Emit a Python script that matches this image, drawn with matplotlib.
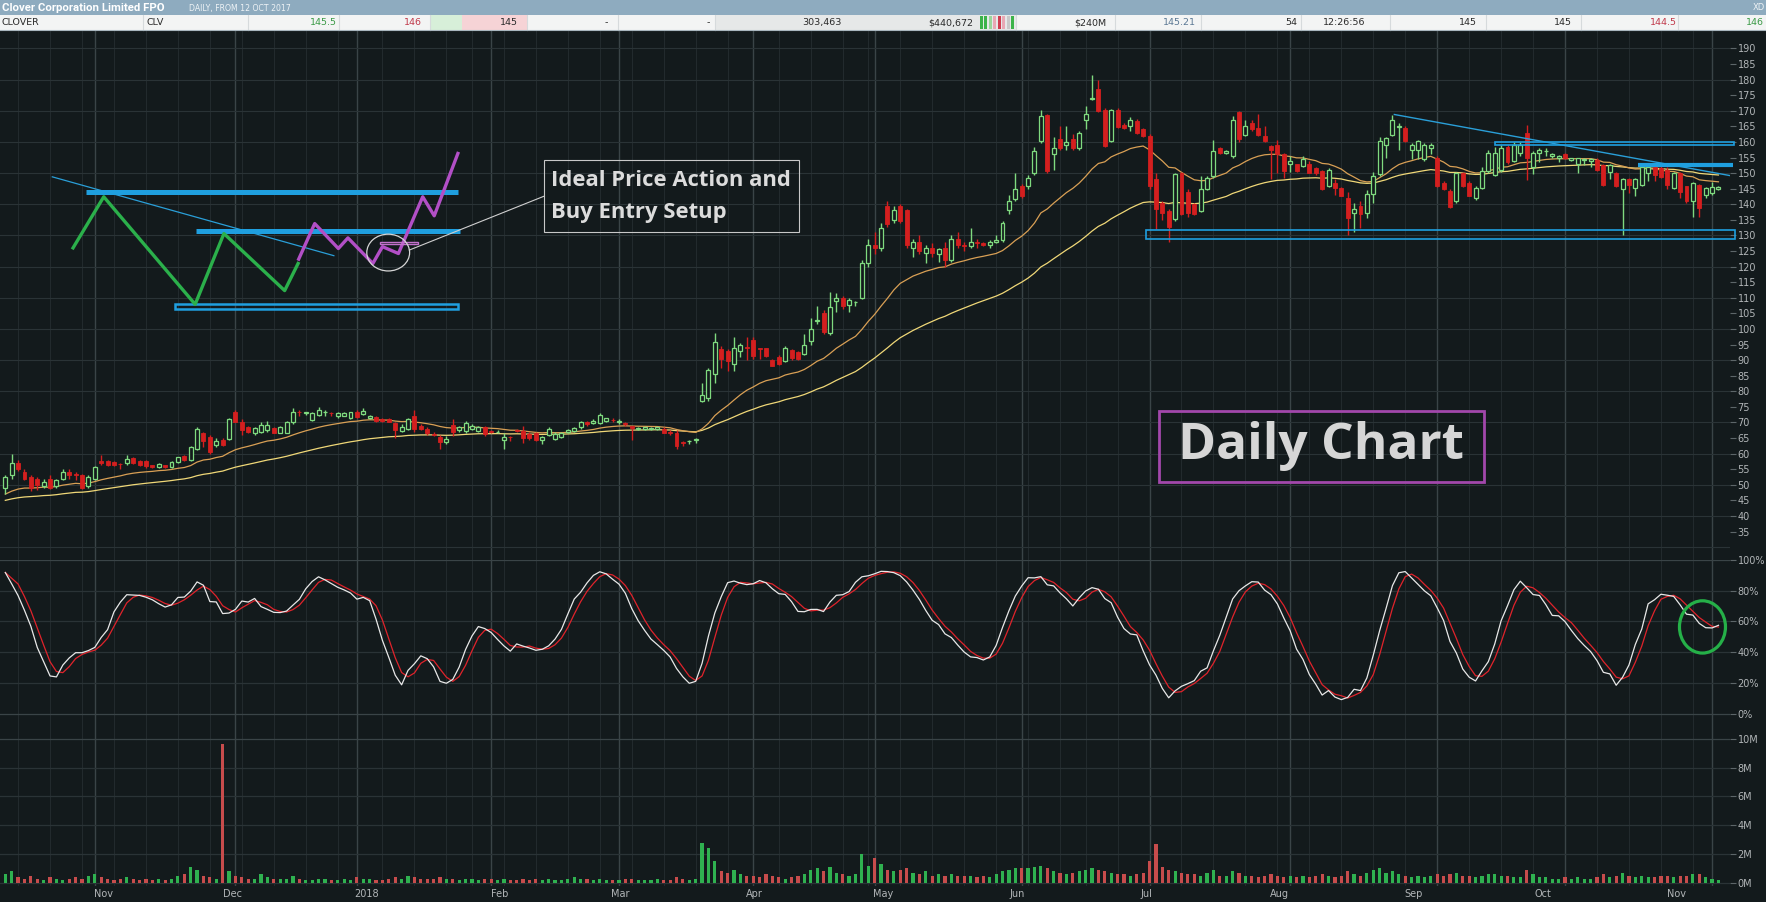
import numpy as np
import pandas as pd
import matplotlib
matplotlib.use("Agg")
import matplotlib.pyplot as plt
from matplotlib.patches import Rectangle, Ellipse
from matplotlib.lines import Line2D

# ---------------- data ----------------
holidays = ["2017-12-25", "2017-12-26", "2018-01-01", "2018-01-26",
            "2018-03-30", "2018-04-02", "2018-04-25", "2018-06-11"]
dates = pd.bdate_range("2017-10-12", "2018-11-02", freq="C", holidays=holidays)

opens = [
    49, 53, 57, 54, 52.5, 52, 49.5, 52, 49.5, 52, 54, 53.3, 53, 49.5,
    52, 57.7, 57.5, 57.2, 56.7, 56.9, 58.5, 57.5, 57.5, 56.2, 55.8, 56.2, 55.7, 57.3, 59.1, 58, 61.5, 66.6, 65.3, 62.6, 64.4, 64.8,
    73.5, 70.3, 68.6, 66.7, 67, 67.6, 68.2, 66.7, 66.7, 70, 73.3, 73, 70.9, 72.4, 73.3, 73.1, 72, 72, 71.4,
    73.4, 72.8, 71.4, 71.7, 71, 71, 69.8, 67.3, 68, 72.2, 69, 68, 66.3, 65.3, 63.6, 69.2, 67.7, 67.2, 68, 67.4, 68.6,
    67.3, 66.8, 64.3, 65.3, 67.5, 67.1, 66.2, 66.5, 64.3, 66, 64.7, 65.2, 67, 67.2, 68.4, 70, 69.9, 69.8, 70.4, 70.8,
    70.2, 69.8, 68.7, 68, 68, 68, 68, 68, 67, 66.7, 63.6, 64, 64.5, 77, 77.7, 85.7, 93.5, 93, 88.7, 92.8, 94.3,
    96.4, 93.8, 93.8, 90, 91, 89.8, 93.2, 92.5, 92.1, 96, 102.5, 105, 98.6, 109, 110, 107.8, 108.5, 110, 121,
    127, 126, 139.5, 135, 139.5, 138, 126, 128, 124.5, 126, 124, 126, 122, 129, 127, 126.5, 128, 127.5, 127, 128, 128.5, 138, 141.6,
    145.8, 145.8, 150, 160.2, 168.7, 156, 160.8, 159, 161, 158, 167, 173.8, 177, 170.3, 160.2, 170.3, 165.5, 165, 166.6, 164,
    161.8, 148, 140.5, 137.9, 135.2, 150, 144, 140, 137.9, 144.8, 149, 158, 156.5, 155.4, 169.5, 162.3, 166, 164.5, 161.8, 158.6, 159, 156,
    152.8, 152.8, 152.3, 153, 151.7, 150.6, 146, 146.9, 145.3, 142.1, 137.3, 139.5, 137.3, 143.2, 149.6, 159, 162.3, 164.8, 164.5, 157.5, 157.5, 154.4, 158,
    154.9, 146.9, 144.3, 141, 150, 146.9, 142.1, 145.3, 150.6, 149.4, 151, 158.5, 154, 156.3, 162.8, 152, 156.6, 157, 155.5, 155,
    156, 154.3, 153, 154.2, 154, 154.2, 152.6, 150.5, 150, 145, 148, 145.1, 146.2, 150, 151.8, 151.5, 151, 145.1, 150, 145.7, 140.9, 146.2, 143, 143.5, 145,
]
highs = [
    53, 60, 58, 55, 53, 52.5, 52, 53, 52, 55, 55, 54, 53.5, 53,
    56, 59.5, 58, 57.5, 57, 59.5, 59, 58, 58, 56.5, 57, 56.5, 57.5, 59, 59.5, 62.5, 68.5, 67, 66, 65, 65, 71.5,
    74, 71, 69, 68.5, 70, 70.5, 68.5, 69, 70.5, 74.5, 74, 73.5, 73.5, 75, 74, 73.5, 73.5, 73.5, 73.5,
    74, 74.5, 72.5, 72, 71.5, 71.5, 70, 69.5, 71.5, 74, 69.5, 68.5, 67, 66, 65.5, 71, 69, 70.5, 69.5, 69, 69,
    67.5, 67.5, 66.5, 65.5, 68, 69, 67, 67, 65.5, 68.5, 67, 67, 68, 68.5, 70.5, 70.5, 71, 73, 71.5, 71.5,
    71, 70, 69, 68.5, 68.5, 68.5, 68.5, 68.5, 67.5, 67.5, 64, 64.5, 65, 82.6, 87.5, 98.6, 94.5, 93.5, 97.5, 95.5, 97.5,
    97.5, 94, 94, 90.5, 91.5, 94.5, 93.5, 93, 98.5, 103.5, 107.5, 106, 112, 111.5, 110.5, 110, 109, 122, 129,
    131, 134, 141, 139.5, 140, 138.5, 129, 130, 127, 127.5, 126, 128, 130, 131, 128, 132.5, 129, 128, 128.5, 130, 134.5, 143, 150,
    146.5, 149.5, 158.5, 170.3, 169, 161.5, 165, 165, 162.5, 163.5, 171.5, 181.5, 180, 171, 170.5, 171, 166, 168, 167.5, 164.5,
    162.5, 150, 141, 138.5, 150, 150.5, 145, 140.5, 149, 149, 160.5, 158.5, 157.5, 168.2, 170, 167, 167, 169, 165, 159, 160.5, 156.5,
    155.5, 153, 155.5, 154, 152, 151, 151.5, 148, 145.5, 144, 140.5, 141, 144.5, 150.5, 161.5, 161.5, 168.5, 166, 165, 159.5, 160.5, 159.5, 159.5,
    155.5, 147.5, 145, 150.5, 150.5, 147.5, 146, 152, 157.5, 158.5, 159, 159, 160, 160, 165.5, 157, 158, 158, 156.5, 155.8,
    156.5, 155, 155, 155, 155, 155, 153, 153, 150.5, 148.5, 148.5, 148.5, 152.5, 152.5, 152.5, 153, 152, 150.5, 150.5, 146, 147, 146.5, 145.5, 147, 146,
]
lows = [
    47, 52, 54.5, 51.5, 48, 48.4, 49, 48.5, 49, 51.5, 52, 51.5, 48.5, 49,
    51.5, 56.5, 56, 56, 55, 56.5, 56.8, 56, 55.5, 55.5, 55.5, 55.5, 55.5, 57, 57.5, 57.5, 61, 62, 60, 62, 62.5, 64.5,
    70, 66, 66.5, 66, 66.5, 67, 66.5, 66.5, 66.5, 69.5, 72, 72.5, 70.5, 72, 72, 72, 71.5, 72, 71,
    71.5, 72.5, 71, 70, 70, 70, 65, 67, 67.5, 67, 67.5, 66, 65.5, 61.5, 63, 65.5, 67, 66.5, 67.5, 67, 65.5,
    66.5, 66.5, 61.5, 64, 67, 63.5, 64.5, 64, 63, 65.5, 64.5, 65, 66.5, 67, 68, 69, 69.5, 69.5, 70, 70,
    69.5, 69, 64.5, 67.5, 67.5, 67.5, 67.5, 66.5, 66, 61.5, 62.5, 63, 63.5, 76.5, 77, 82.5, 87.5, 86.6, 86.6, 91, 90,
    90.5, 90.5, 91, 88, 88.5, 89.5, 90, 90, 91.5, 95, 101.5, 98.5, 98, 105.5, 106.5, 105.5, 107.5, 109.5, 120,
    124, 125, 132.8, 134, 134, 126, 123, 124, 121, 123, 121.5, 120, 121.5, 126, 125, 126, 126, 126.5, 126, 127.5, 128, 137, 141,
    142, 145, 149.5, 159.5, 150, 151, 157.5, 157.5, 157.5, 157.5, 164, 173.5, 169.5, 158.5, 160, 164.5, 164, 163.5, 162.5, 161.5,
    145, 132, 135, 128, 134.5, 136.5, 136, 136.5, 137.5, 144.5, 148.5, 156, 156, 155, 160, 162, 163.5, 162, 160, 148, 150, 148.5,
    150.5, 150.5, 152, 150, 149.5, 144.5, 145.5, 143, 142.5, 130, 131, 132.5, 135.5, 140.5, 149, 155, 162, 157.5, 160, 154.5, 154.5, 154, 156,
    145.5, 144.5, 138.8, 140.5, 145.5, 142.5, 141.5, 145, 150, 149, 150.5, 153, 153.5, 155.5, 147.8, 149.7, 153.5, 155.5, 155, 153.5,
    154.5, 154, 150, 152.5, 152, 150.8, 146, 148, 145.5, 130, 143.5, 142.5, 146, 147.5, 147.5, 148.5, 145, 145, 142, 140.5, 136, 136, 142, 143, 144.5,
]
closes = [
    52.5, 57, 55, 52, 49, 50, 51, 49, 51.6, 54, 53, 53.2, 49, 52.5,
    55.7, 57, 56.4, 56.4, 56.6, 58.2, 57, 56.4, 55.9, 55.7, 56.8, 55.8, 57.3, 58.8, 58, 62.1, 68, 64.2, 60.5, 64, 62.9, 71.2,
    70.3, 67.6, 67, 68.2, 69.2, 69.2, 66.7, 68.6, 70.3, 73.2, 73.2, 73.3, 73, 74, 73.3, 73, 73, 73, 73.2,
    71.7, 73.6, 72.2, 70.4, 70.5, 70.3, 67.6, 68.6, 71, 68, 68, 66.6, 65.9, 63.6, 64.8, 67, 68.6, 69.8, 69, 68.5, 66.2,
    67, 67, 65.2, 65.2, 67.3, 65, 65.1, 64.5, 65.3, 68, 66.2, 66.7, 67.6, 68.3, 70, 69.5, 70.5, 72.3, 71.4, 70.7,
    70.3, 69.4, 68.2, 68.3, 68.4, 68.3, 68.4, 66.6, 66.5, 62.5, 63.5, 64, 64.6, 78.8, 86.8, 95.7, 90.3, 89.8, 93.9, 95, 94,
    91.4, 93.6, 91.4, 88.2, 88.7, 93.8, 90.6, 90.3, 94.9, 100, 103, 98.9, 107, 110, 107.5, 109.3, 108.6, 121, 127,
    126, 132.5, 133.6, 138, 134.7, 127, 128, 125, 126, 124.5, 125.5, 122, 129, 127, 126.5, 128, 127.5, 127, 128, 128.5, 134, 141, 144.9,
    142.7, 148.5, 157, 168.2, 150.6, 158, 158, 160, 158, 163, 169, 174, 170, 158.6, 170.3, 164.8, 164.5, 167, 162.9, 161.8,
    145.8, 138.4, 137.3, 132.6, 149.6, 136.8, 137.3, 136.8, 144.8, 148.5, 157, 156.5, 157, 167.1, 160.8, 165, 164, 162.3, 160.2, 157.5, 156, 150.6,
    153.8, 150.6, 154.6, 150, 150, 144.8, 151, 145.3, 142.7, 135.7, 138.4, 136.8, 143.2, 149, 160.2, 161.3, 167.1, 165.2, 160.2, 159, 160.2, 159, 159,
    145.8, 144.8, 139, 150, 145.8, 142.7, 145.3, 150.6, 156.5, 156.3, 158, 153.4, 159, 159, 154.7, 156.5, 157.4, 157.2, 156, 155.5,
    154.7, 154.7, 154.7, 154.6, 154.6, 151, 146.2, 152.6, 145.7, 148, 146.2, 148, 152.1, 152.1, 149.4, 148.9, 146.2, 149.9, 144, 140.9, 146.7, 138.7, 145.1, 145.4, 145.5,
]
volume_m = [
    0.6, 0.8, 0.4, 0.3, 0.5, 0.3, 0.2, 0.4, 0.3, 0.2, 0.3, 0.4, 0.3, 0.5,
    0.6, 0.4, 0.3, 0.2, 0.3, 0.4, 0.3, 0.2, 0.3, 0.2, 0.3, 0.2, 0.3, 0.5, 0.6, 1.1, 0.9, 0.5, 0.4, 0.3, 9.6, 0.8,
    0.5, 0.4, 0.3, 0.3, 0.6, 0.4, 0.3, 0.3, 0.3, 0.5, 0.3, 0.2, 0.2, 0.3, 0.3, 0.2, 0.2, 0.3, 0.2,
    0.4, 0.3, 0.3, 0.2, 0.2, 0.3, 0.4, 0.3, 0.5, 0.4, 0.3, 0.3, 0.3, 0.4, 0.3, 0.3, 0.2, 0.3, 0.3, 0.2, 0.3,
    0.3, 0.2, 0.3, 0.2, 0.2, 0.3, 0.2, 0.3, 0.2, 0.3, 0.2, 0.2, 0.3, 0.4, 0.3, 0.3, 0.2, 0.3, 0.2, 0.2,
    0.2, 0.3, 0.3, 0.2, 0.2, 0.2, 0.3, 0.2, 0.2, 0.4, 0.3, 0.2, 0.3, 2.8, 2.4, 1.5, 0.8, 0.7, 0.9, 0.6, 0.5,
    0.5, 0.4, 0.6, 0.5, 0.4, 0.3, 0.4, 0.5, 0.6, 0.9, 1.0, 0.8, 1.1, 0.7, 0.6, 0.5, 0.6, 2.0, 1.2,
    1.7, 1.3, 0.9, 0.8, 0.9, 1.0, 0.7, 0.6, 0.8, 0.5, 0.6, 0.5, 0.6, 0.5, 0.5, 0.5, 0.4, 0.5, 0.4, 0.6, 0.8, 0.9, 1.0,
    1.0, 1.0, 1.1, 1.2, 1.0, 0.8, 0.7, 0.6, 0.7, 0.8, 0.9, 1.0, 0.9, 0.8, 0.7, 0.6, 0.6, 0.5, 0.6, 0.7,
    1.5, 2.7, 1.1, 0.9, 0.8, 0.7, 0.6, 0.6, 0.5, 0.7, 0.9, 0.5, 0.5, 0.8, 0.7, 0.5, 0.5, 0.4, 0.5, 0.6, 0.5, 0.4,
    0.5, 0.4, 0.5, 0.4, 0.5, 0.6, 0.5, 0.4, 0.5, 0.8, 0.6, 0.5, 0.7, 0.9, 1.0, 0.7, 0.8, 0.6, 0.5, 0.4, 0.5, 0.4, 0.5,
    0.6, 0.5, 0.6, 0.7, 0.5, 0.5, 0.4, 0.5, 0.6, 0.6, 0.5, 0.5, 0.4, 0.4, 0.9, 0.6, 0.4, 0.4, 0.3, 0.3,
    0.4, 0.3, 0.4, 0.3, 0.3, 0.4, 0.6, 0.4, 0.5, 0.7, 0.5, 0.4, 0.5, 0.4, 0.4, 0.5, 0.5, 0.4, 0.5, 0.5, 0.6, 0.6, 0.4, 0.3, 0.2,
]

ma_fast_start, ma_slow_start = 47.0, 45.0     # MA levels at the left edge
ma_fast_span, ma_slow_span = 20, 50
stoch_period, stoch_k_smooth, stoch_d_smooth = 14, 5, 3

month_labels = ["Nov", "Dec", "2018", "Feb", "Mar", "Apr", "May", "Jun",
                "Jul", "Aug", "Sep", "Oct", "Nov"]
label_dates = ["2017-11-01", "2017-12-01", "2018-01-01", "2018-02-01", "2018-03-01",
               "2018-04-01", "2018-05-01", "2018-06-01", "2018-07-01", "2018-08-01",
               "2018-09-01", "2018-10-01", "2018-11-01"]
price_ticks = list(range(35, 195, 5))
stoch_ticks = [0, 20, 40, 60, 80, 100]
vol_ticks = [0, 2, 4, 6, 8, 10]

header_cells = [
    ("CLOVER", "l"), ("CLV", "l"), ("145.5", "g"), ("146", "r"), ("145", "k"),
    ("-", "k"), ("-", "k"), ("303,463", "k"), ("$440,672", "k"), ("$240M", "k"),
    ("145.21", "b"), ("54", "k"), ("12:26:56", "k"), ("145", "k"), ("145", "k"),
    ("144.5", "r"), ("146", "g"),
]

# ---------------- derived arrays ----------------
O = np.array(opens, float); C = np.array(closes, float)
Hh = np.maximum(np.array(highs, float), np.maximum(O, C))
Ll = np.minimum(np.array(lows, float), np.minimum(O, C))
V = np.array(volume_m, float)
n = len(C)
x = np.arange(n)
d = dates[:n]

def ema(values, start, span):
    a = 2.0 / (span + 1)
    out = [start]
    for v in values[1:]:
        out.append(out[-1] + a * (v - out[-1]))
    return np.array(out)

ma_fast = ema(C, ma_fast_start, ma_fast_span)
ma_slow = ema(C, ma_slow_start, ma_slow_span)

cs, hs, ls = pd.Series(C), pd.Series(Hh), pd.Series(Ll)
hh = hs.rolling(stoch_period, min_periods=1).max()
ll = ls.rolling(stoch_period, min_periods=1).min()
raw = 100 * (cs - ll) / (hh - ll).replace(0, np.nan)
k_line = raw.rolling(stoch_k_smooth, min_periods=1).mean()
d_line = k_line.rolling(stoch_d_smooth, min_periods=1).mean()

month_idx = [i for i in range(1, n) if d[i].month != d[i - 1].month]
week_idx = [i for i in range(1, n) if d[i].isocalendar()[1] != d[i - 1].isocalendar()[1]
            and i not in month_idx]

# ---------------- figure ----------------
BG = "#131a1c"
GRID_MAJ = "#3a4447"
GRID_MIN = "#222a2d"
GRID_H = "#2a3336"
TXT = "#b2b6b8"
GREEN = "#7fda7f"
RED = "#d41f1f"
BLUE = "#1f9fdf"

DW, DH = 1568.0, 801.0
fig = plt.figure(figsize=(17.66, 9.02), dpi=100)
fig.patch.set_facecolor(BG)

def frect(x0, y0, x1, y1):
    return [x0 / DW, 1 - y1 / DH, (x1 - x0) / DW, (y1 - y0) / DH]

axp = fig.add_axes(frect(0, 27, 1536, 497))
axs = fig.add_axes(frect(0, 497, 1536, 645))
axv = fig.add_axes(frect(0, 645, 1536, 787))

XL = (-0.83, 269.8)
for ax in (axp, axs, axv):
    ax.set_facecolor(BG)
    ax.set_xlim(*XL)
    for s in ax.spines.values():
        s.set_visible(False)
    ax.yaxis.tick_right()
    ax.tick_params(axis="y", colors=TXT, labelsize=7, length=4, width=0.8,
                   pad=1.5, direction="out")
    ax.tick_params(axis="y", which="both", color="#5d6669")
    for i in week_idx:
        ax.axvline(i, color=GRID_MIN, lw=0.8, zorder=0)
    for i in month_idx:
        ax.axvline(i, color=GRID_MAJ, lw=1.0, zorder=0)

# ---- price panel ----
axp.set_ylim(25.97, 195.78)
axp.set_yticks(price_ticks)
axp.set_yticklabels([str(t) for t in price_ticks])
axp.set_xticks([])
for g in range(30, 200, 10):
    axp.axhline(g, color=GRID_H, lw=0.8, zorder=0)

axp.plot(x, ma_slow, color="#f0d878", lw=0.9, zorder=2)
axp.plot(x, ma_fast, color="#d9a055", lw=0.9, zorder=2)

up = C >= O
dn = ~up
blo = np.minimum(O, C)
bhi = np.maximum(O, C)
bh = np.maximum(bhi - blo, 0.15)
axp.vlines(x[up], bhi[up], Hh[up], color=GREEN, lw=1.0, zorder=3)
axp.vlines(x[up], Ll[up], blo[up], color=GREEN, lw=1.0, zorder=3)
axp.vlines(x[dn], Ll[dn], Hh[dn], color=RED, lw=1.0, zorder=3)
axp.bar(x[up], bh[up], bottom=blo[up], width=0.62, facecolor=BG,
        edgecolor=GREEN, linewidth=0.9, zorder=4)
axp.bar(x[dn], bh[dn], bottom=blo[dn], width=0.62, facecolor=RED,
        edgecolor=RED, linewidth=0.6, zorder=4)

# ---- left drawing: ideal setup ----
axp.plot([7.35, 51.4], [148.8, 123.5], color="#2a9fd8", lw=0.9, zorder=5)
axp.plot([12.65, 70.8], [144.0, 144.0], color=BLUE, lw=3.6, zorder=5, solid_capstyle="butt")
axp.plot([29.8, 71.1], [131.4, 131.4], color=BLUE, lw=3.6, zorder=5, solid_capstyle="butt")
axp.add_patch(Rectangle((26.5, 106.3), 44.3, 1.8, fill=False, ec=BLUE, lw=1.8, zorder=5))
gx = [10.6, 15.4, 29.7, 34.2, 43.7, 45.8]
gy = [126.0, 142.4, 107.9, 130.6, 112.3, 121.0]
axp.plot(gx, gy, color="#2bb04b", lw=2.4, zorder=6)
mx = [45.9, 48.4, 52.1, 53.6, 57.5, 59.0, 61.5, 65.3, 67.1, 70.8]
my = [122.4, 133.8, 125.8, 129.2, 121.0, 126.4, 124.2, 142.4, 136.3, 156.3]
axp.plot(mx, my, color="#b24fc6", lw=2.4, zorder=6)
axp.add_patch(Rectangle((58.6, 127.1), 5.9, 0.8, fill=False, ec="#c372cc", lw=1.0, zorder=6))
axp.add_patch(Ellipse((59.9, 124.5), 6.7, 11.8, fill=False, ec="#d6d6d6", lw=0.9, zorder=6))
axp.plot([63.2, 84.3], [125.3, 142.6], color="#d0d0d0", lw=0.8, zorder=6)
axp.add_patch(Rectangle((84.3, 131.1), 39.8, 23.1, fill=False, ec="#c8c8c8", lw=0.8, zorder=6))
axp.text(85.3, 147.7, "Ideal Price Action and", color="#dcdcdc", fontsize=15.8,
         fontweight="bold", family=["Open Sans", "DejaVu Sans"], ha="left", va="center", zorder=7)
axp.text(85.3, 137.2, "Buy Entry Setup", color="#dcdcdc", fontsize=15.8,
         fontweight="bold", family=["Open Sans", "DejaVu Sans"], ha="left", va="center", zorder=7)

# ---- right drawing ----
axp.plot([217.3, 269.8], [168.8, 149.2], color="#2a9fd8", lw=1.0, zorder=5)
axp.add_patch(Rectangle((233.1, 159.0), 37.4, 1.0, fill=False, ec=BLUE, lw=1.2,
                        zorder=5, clip_on=False))
axp.plot([255.4, 270.3], [152.6, 152.6], color=BLUE, lw=3.0, zorder=5,
         solid_capstyle="butt", clip_on=False)
axp.add_patch(Rectangle((178.4, 129.0), 92.2, 2.7, fill=False, ec=BLUE, lw=1.2,
                        zorder=5, clip_on=False))

# ---- Daily Chart label ----
axp.add_patch(Rectangle((180.5, 50.9), 50.9, 22.7, fill=False, ec="#a247ab", lw=2.0, zorder=6))
axp.text(205.9, 62.3, "Daily Chart", color="#d6d6d6", fontsize=37, fontweight="bold",
         family=["Open Sans", "DejaVu Sans"], ha="center", va="center", zorder=7)

# ---- stochastic panel ----
axs.set_ylim(-8.03, 100)
axs.set_yticks(stoch_ticks)
axs.set_yticklabels([f"{t}%" for t in stoch_ticks])
axs.set_xticks([])
for g in stoch_ticks:
    axs.axhline(g, color=GRID_MAJ if g in (0, 100) else GRID_H, lw=0.9, zorder=0)
axs.plot(x, d_line, color="#e0232b", lw=0.9, zorder=3)
axs.plot(x, k_line, color="#e8e8e8", lw=0.9, zorder=4)
axs.add_patch(Ellipse((265.5, 56.4), 7.2, 33.9, fill=False, ec="#25b048", lw=2.3, zorder=5))

# ---- volume panel ----
axv.set_ylim(-0.234, 10.86)
axv.set_yticks(vol_ticks)
axv.set_yticklabels([f"{t}M" for t in vol_ticks])
for g in vol_ticks:
    axv.axhline(g, color=GRID_MAJ if g == 10 else GRID_H, lw=0.9, zorder=0)
vcol = np.where(up, "#2fb150", "#c74c4c")
axv.bar(x, V, width=0.5, color=vcol, zorder=3)

# month labels: the reference spaces them by calendar time
t0 = pd.Timestamp("2017-10-12")
lab_disp = [92 + ((pd.Timestamp(s) - t0).days - 20) * 3.825 for s in label_dates]
lab_pos = [(xd - 4.7) / 5.675 for xd in lab_disp]
axv.set_xticks(lab_pos)
axv.set_xticklabels(month_labels, ha="center")
axv.tick_params(axis="x", colors=TXT, labelsize=7, length=0, pad=2)

# ---------------- header ----------------
def frect_patch(x0, y0, x1, y1, color, z=10):
    fig.patches.append(Rectangle((x0 / DW, 1 - y1 / DH), (x1 - x0) / DW, (y1 - y0) / DH,
                                 transform=fig.transFigure, facecolor=color,
                                 edgecolor="none", zorder=z))

def ftext(xd, yd, s, **kw):
    fig.text(xd / DW, 1 - yd / DH, s, **kw)

frect_patch(0, 0, DW, 13, "#8eabbf")
frect_patch(0, 13, DW, 27, "#f3f4f4")
frect_patch(382, 13, 410, 27, "#d7efd9")
frect_patch(410, 13, 468, 27, "#f6d3d6")
frect_patch(635, 13, 902, 27, "#e6e8e8")
for xx, col in [(870, "#3cb34a"), (874, "#3cb34a"), (878, "#9ad69c"), (882, "#e8a8b4"),
                (886, "#cf3d50"), (890, "#e8a8b4"), (894, "#c8c8c8"), (898, "#3cb34a")]:
    frect_patch(xx, 14.5, xx + 2.6, 25.5, col, z=11)
for xs in [127, 220, 301, 382, 468, 549, 635, 902, 990, 1066, 1155, 1234, 1319, 1404, 1490]:
    fig.lines.append(Line2D([xs / DW, xs / DW], [1 - 13.5 / DH, 1 - 26.5 / DH],
                            transform=fig.transFigure, color="#d6dadc", lw=0.8, zorder=11))
fig.lines.append(Line2D([0, 1], [1 - 27 / DH, 1 - 27 / DH], transform=fig.transFigure,
                        color="#a9b6be", lw=0.8, zorder=11))
ftext(2, 6.8, "Clover Corporation Limited FPO", color="white", fontsize=8.2, fontweight="bold",
      family=["Roboto", "DejaVu Sans"], va="center", ha="left", zorder=12)
ftext(168, 7.2, "DAILY, FROM 12 OCT 2017", color="#eef3f6", fontsize=5.6,
      family=["DejaVu Sans"], va="center", ha="left", zorder=12)
ftext(1567, 6.8, "XD", color="#eef3f6", fontsize=6, va="center", ha="right", zorder=12)

cell_x = [1, 130, 299, 375, 460, 538, 629, 747, 864, 982, 1062, 1152, 1212, 1311, 1396, 1489, 1566]
colmap = {"l": "#2a2a2a", "k": "#2a2a2a", "g": "#3a9a46", "r": "#c0394a", "b": "#5b7894"}
for (s, kind), xc in zip(header_cells, cell_x):
    ha = "left" if kind == "l" else ("center" if s == "-" else "right")
    ftext(xc, 20.3, s, color=colmap[kind], fontsize=6.8, va="center", ha=ha,
          family=["DejaVu Sans"], zorder=12)

fig.savefig("out.png", dpi=100, facecolor=BG)
